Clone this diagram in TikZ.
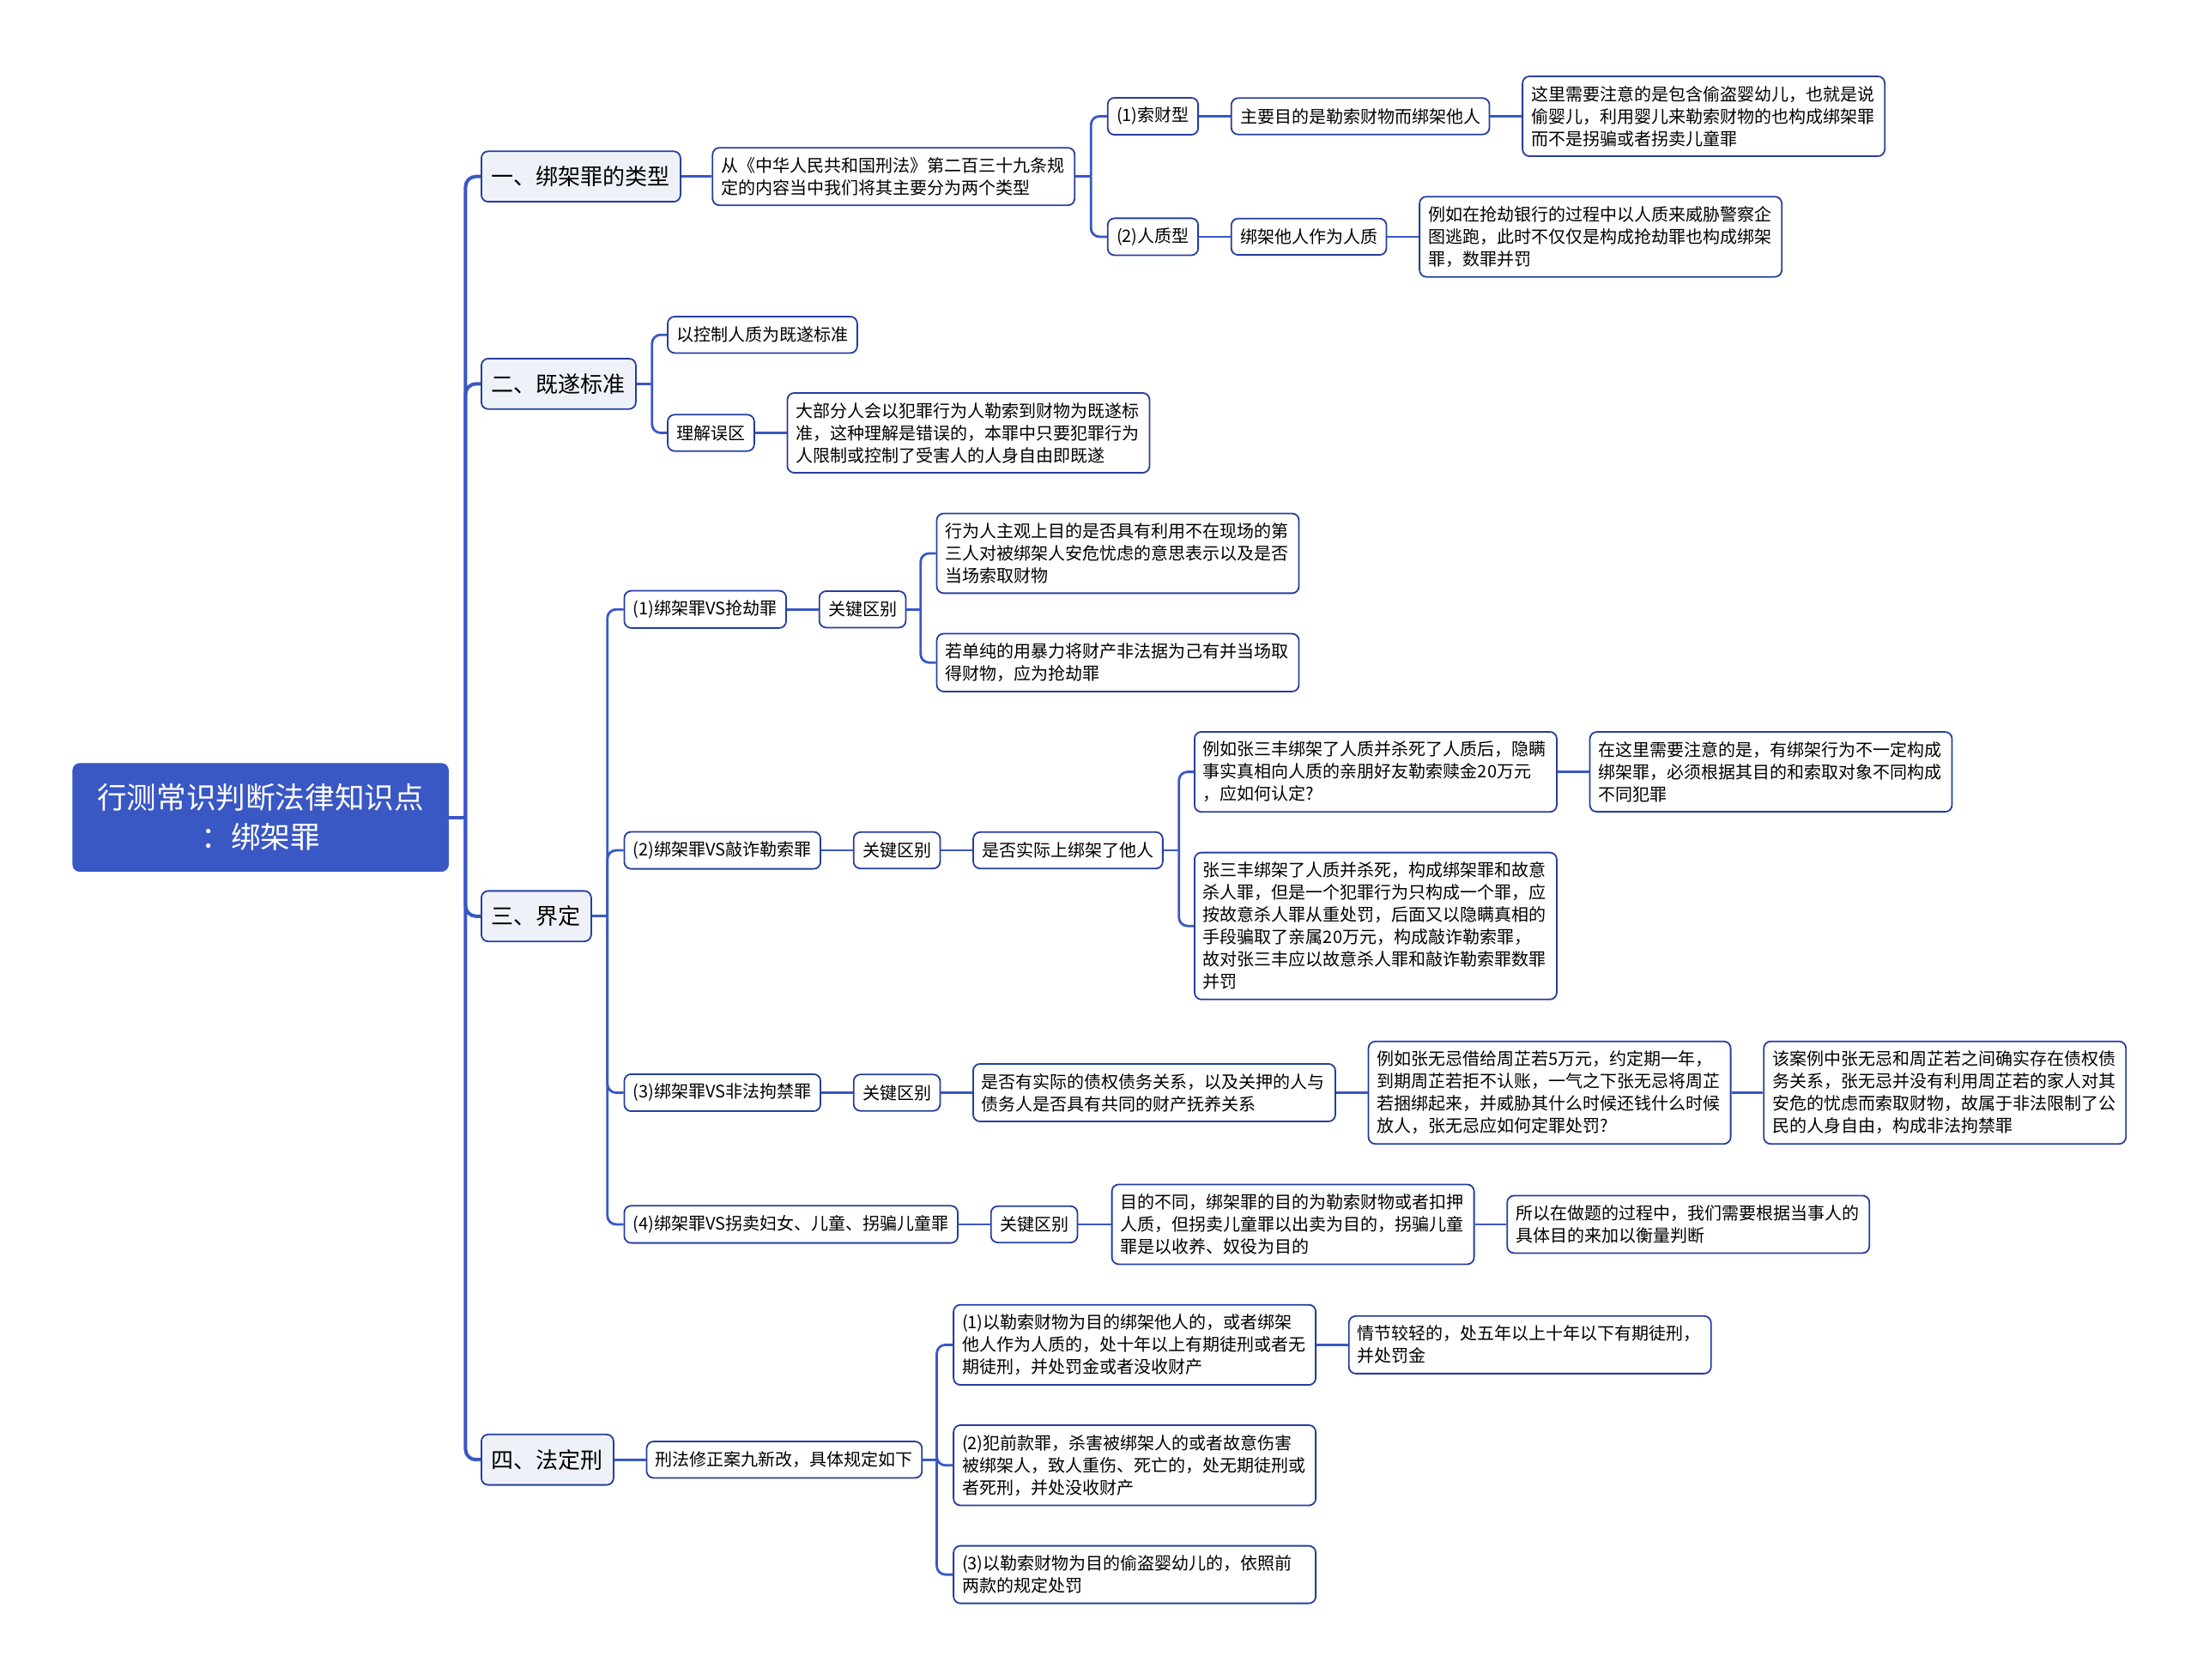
\documentclass[tikz,border=0pt]{standalone}
\usepackage{fontspec}
\setmainfont{Noto Sans CJK SC}
\usetikzlibrary{positioning}

\definecolor{mapblue}{RGB}{58,88,196}
\definecolor{edgeblue}{RGB}{38,62,158}
\definecolor{topicfill}{RGB}{238,242,248}

\tikzset{
  root/.style={rectangle,rounded corners=4pt,fill=mapblue,draw=mapblue,text=white,align=center,
    minimum width=218.8pt,minimum height=62.9pt,font=\fontsize{17.3}{22.9}\selectfont},
  topic/.style={rectangle,rounded corners=4pt,draw=edgeblue,line width=0.9pt,fill=topicfill,anchor=west,
    inner xsep=6pt,minimum height=29.4pt,font=\fontsize{13}{16}\selectfont},
  leaf/.style={rectangle,rounded corners=4pt,draw=edgeblue,line width=0.9pt,fill=white,anchor=west,
    inner xsep=5.2pt,inner ysep=5.6pt,minimum height=21.2pt,font=\fontsize{10}{13}\selectfont},
  note/.style={leaf,inner xsep=5pt,text width=201pt,align=left},
  trunk/.style={draw=mapblue,line width=2pt,rounded corners=6pt},
  link/.style={draw=mapblue,line width=1.4pt,rounded corners=5pt},
  node distance=18.4pt
}

\begin{document}
\begin{tikzpicture}[x=0.8163pt,y=-0.8163pt]
\useasboundingbox (0,0) rectangle (1568,1199);

\node[root] (R) at (186,583.5) {行测常识判断法律知识点\\：绑架罪};

\node[topic] (T1) at (343,126) {一、绑架罪的类型};
\node[topic] (T2) at (343,274) {二、既遂标准};
\node[topic] (T3) at (343,654) {三、界定};
\node[topic] (T4) at (343,1042) {四、法定刑};

% types
\node[note] (A0) at (508,126) {从《中华人民共和国刑法》第二百三十九条规\\定的内容当中我们将其主要分为两个类型};
\node[leaf] (A1) at (790,83) {(1)索财型};
\node[leaf,right=of A1] (A1a) {主要目的是勒索财物而绑架他人};
\node[note,right=of A1a] (A1b) {这里需要注意的是包含偷盗婴幼儿，也就是说\\偷婴儿，利用婴儿来勒索财物的也构成绑架罪\\而不是拐骗或者拐卖儿童罪};
\node[leaf] (A2) at (790,169) {(2)人质型};
\node[leaf,right=of A2] (A2a) {绑架他人作为人质};
\node[note,right=of A2a] (A2b) {例如在抢劫银行的过程中以人质来威胁警察企\\图逃跑，此时不仅仅是构成抢劫罪也构成绑架\\罪，数罪并罚};

% completion
\node[leaf] (B1) at (476,239) {以控制人质为既遂标准};
\node[leaf] (B2) at (476,309) {理解误区};
\node[note,right=of B2] (B2a) {大部分人会以犯罪行为人勒索到财物为既遂标\\准，这种理解是错误的，本罪中只要犯罪行为\\人限制或控制了受害人的人身自由即既遂};

% distinctions
\node[leaf] (C1) at (445,435) {(1)绑架罪VS抢劫罪};
\node[leaf,right=of C1] (C1k) {关键区别};
\node[note] (C1a) at (668,395) {行为人主观上目的是否具有利用不在现场的第\\三人对被绑架人安危忧虑的意思表示以及是否\\当场索取财物};
\node[note] (C1b) at (668,473) {若单纯的用暴力将财产非法据为己有并当场取\\得财物，应为抢劫罪};

\node[leaf] (C2) at (445,607) {(2)绑架罪VS敲诈勒索罪};
\node[leaf,right=of C2] (C2k) {关键区别};
\node[leaf,right=of C2k] (C2q) {是否实际上绑架了他人};
\node[note] (C2a) at (852,551) {例如张三丰绑架了人质并杀死了人质后，隐瞒\\事实真相向人质的亲朋好友勒索赎金20万元\\，应如何认定?};
\node[note,right=of C2a] (C2b) {在这里需要注意的是，有绑架行为不一定构成\\绑架罪，必须根据其目的和索取对象不同构成\\不同犯罪};
\node[note] (C2c) at (852,661) {张三丰绑架了人质并杀死，构成绑架罪和故意\\杀人罪，但是一个犯罪行为只构成一个罪，应\\按故意杀人罪从重处罚，后面又以隐瞒真相的\\手段骗取了亲属20万元，构成敲诈勒索罪，\\故对张三丰应以故意杀人罪和敲诈勒索罪数罪\\并罚};

\node[leaf] (C3) at (445,780) {(3)绑架罪VS非法拘禁罪};
\node[leaf,right=of C3] (C3k) {关键区别};
\node[note] (C3q) at (694,780) {是否有实际的债权债务关系，以及关押的人与\\债务人是否具有共同的财产抚养关系};
\node[note,right=of C3q] (C3a) {例如张无忌借给周芷若5万元，约定期一年，\\到期周芷若拒不认账，一气之下张无忌将周芷\\若捆绑起来，并威胁其什么时候还钱什么时候\\放人，张无忌应如何定罪处罚?};
\node[note,right=of C3a] (C3b) {该案例中张无忌和周芷若之间确实存在债权债\\务关系，张无忌并没有利用周芷若的家人对其\\安危的忧虑而索取财物，故属于非法限制了公\\民的人身自由，构成非法拘禁罪};

\node[leaf] (C4) at (445,874) {(4)绑架罪VS拐卖妇女、儿童、拐骗儿童罪};
\node[leaf,right=of C4] (C4k) {关键区别};
\node[note] (C4q) at (793,874) {目的不同，绑架罪的目的为勒索财物或者扣押\\人质，但拐卖儿童罪以出卖为目的，拐骗儿童\\罪是以收养、奴役为目的};
\node[note,right=of C4q] (C4a) {所以在做题的过程中，我们需要根据当事人的\\具体目的来加以衡量判断};

% penalty
\node[leaf,right=of T4] (D0) {刑法修正案九新改，具体规定如下};
\node[note] (D1) at (680,960) {(1)以勒索财物为目的绑架他人的，或者绑架\\他人作为人质的，处十年以上有期徒刑或者无\\期徒刑，并处罚金或者没收财产};
\node[note,right=of D1] (D1a) {情节较轻的，处五年以上十年以下有期徒刑，\\并处罚金};
\node[note] (D2) at (680,1046) {(2)犯前款罪，杀害被绑架人的或者故意伤害\\被绑架人，致人重伤、死亡的，处无期徒刑或\\者死刑，并处没收财产};
\node[note] (D3) at (680,1124) {(3)以勒索财物为目的偷盗婴幼儿的，依照前\\两款的规定处罚};

% connectors
\draw[trunk] (R.east) -- ++(12,0) coordinate (jR);
\foreach \t in {T1,T2,T3,T4} \draw[trunk] (jR) |- (\t.west);

\draw[link] (T1.east) -- (A0.west);
\draw[link] (A0.east) -- ++(11,0) coordinate (jA);
\foreach \c in {A1,A2} \draw[link] (jA) |- (\c.west);
\draw[link] (A1.east) -- (A1a.west);
\draw[link] (A1a.east) -- (A1b.west);
\draw[link] (A2.east) -- (A2a.west);
\draw[link] (A2a.east) -- (A2b.west);

\draw[link] (T2.east) -- ++(11,0) coordinate (jB);
\foreach \c in {B1,B2} \draw[link] (jB) |- (\c.west);
\draw[link] (B2.east) -- (B2a.west);

\draw[link] (T3.east) -- ++(11,0) coordinate (jC);
\foreach \c in {C1,C2,C3,C4} \draw[link] (jC) |- (\c.west);
\draw[link] (C1.east) -- (C1k.west);
\draw[link] (C1k.east) -- ++(10,0) coordinate (jC1);
\foreach \c in {C1a,C1b} \draw[link] (jC1) |- (\c.west);
\draw[link] (C2.east) -- (C2k.west);
\draw[link] (C2k.east) -- (C2q.west);
\draw[link] (C2q.east) -- ++(11,0) coordinate (jC2);
\foreach \c in {C2a,C2c} \draw[link] (jC2) |- (\c.west);
\draw[link] (C2a.east) -- (C2b.west);
\draw[link] (C3.east) -- (C3k.west);
\draw[link] (C3k.east) -- (C3q.west);
\draw[link] (C3q.east) -- (C3a.west);
\draw[link] (C3a.east) -- (C3b.west);
\draw[link] (C4.east) -- (C4k.west);
\draw[link] (C4k.east) -- (C4q.west);
\draw[link] (C4q.east) -- (C4a.west);

\draw[link] (T4.east) -- (D0.west);
\draw[link] (D0.east) -- ++(10,0) coordinate (jD);
\foreach \c in {D1,D2,D3} \draw[link] (jD) |- (\c.west);
\draw[link] (D1.east) -- (D1a.west);

\end{tikzpicture}
\end{document}
